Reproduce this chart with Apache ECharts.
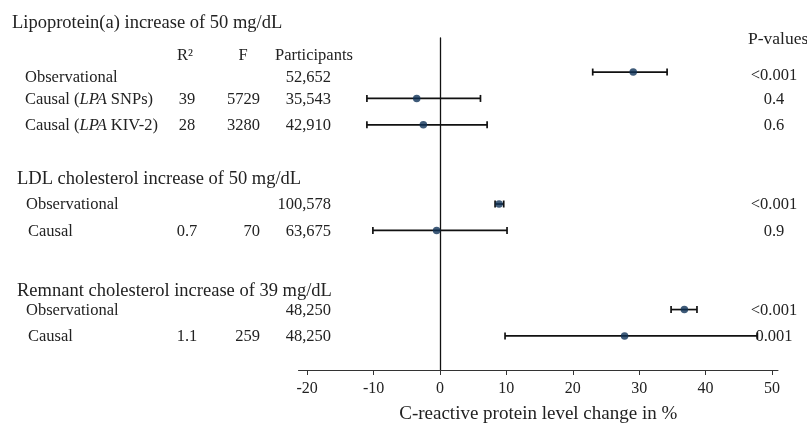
<!DOCTYPE html>
<html>
<head>
<meta charset="utf-8">
<script src="https://cdn.jsdelivr.net/npm/echarts@6/dist/echarts.min.js"></script>
<style>
html,body{margin:0;padding:0;background:#fff;}
#chart{width:807px;height:424px;}
</style>
</head>
<body>
<div id="chart"></div>
<script>
// ---- data ----
const groupTitles = ['Lipoprotein(a) increase of 50 mg/dL', 'LDL cholesterol increase of 50 mg/dL', 'Remnant cholesterol increase of 39 mg/dL'];
const rowGroup = [0, 0, 0, 1, 1, 2, 2];
const rowLabels = ['Observational', 'Causal ({i|LPA} SNPs)', 'Causal ({i|LPA} KIV-2)', 'Observational', 'Causal', 'Observational', 'Causal'];
const rowIndex = [1, 2, 3, 6, 7, 10, 11];
const estimate = [29.1, -3.5, -2.5, 8.9, -0.5, 36.8, 27.8];
const lower = [23.0, -11.0, -11.0, 8.3, -10.1, 34.8, 9.8];
const upper = [34.2, 6.1, 7.1, 9.6, 10.1, 38.7, 47.8];
const r2 = ['', '39', '28', '', '0.7', '', '1.1'];
const fStat = ['', '5729', '3280', '', '70', '', '259'];
const participants = ['52,652', '35,543', '42,910', '100,578', '63,675', '48,250', '48,250'];
const pValues = ['<0.001', '0.4', '0.6', '<0.001', '0.9', '<0.001', '0.001'];
const columnHeaders = ['R²', 'F', 'Participants', 'P-values'];
const xTicks = [-20, -10, 0, 10, 20, 30, 40, 50];
const xTitle = 'C-reactive protein level change in %';

// ---- chart ----
const FONT = '"Liberation Serif", "Times New Roman", serif';
const chart = echarts.init(document.getElementById('chart'), null, {renderer: 'canvas'});

const barData = rowIndex.map((r, i) => [lower[i], upper[i], r]);
const pointData = rowIndex.map((r, i) => [estimate[i], r]);

chart.setOption({
  backgroundColor: '#ffffff',
  animation: false,
  grid: {left: 298.5, right: 29, top: 38, bottom: 54, containLabel: false, outerBoundsMode: 'none'},
  xAxis: {
    type: 'value', min: -21.3, max: 50.9,
    axisLine: {show: true, onZero: false, lineStyle: {color: '#333', width: 1}},
    axisTick: {show: true, inside: false, length: 5, customValues: xTicks, lineStyle: {color: '#333'}},
    axisLabel: {show: true, customValues: xTicks, fontFamily: FONT, fontSize: 16, color: '#222', margin: 11},
    splitLine: {show: false},
    name: xTitle, nameLocation: 'middle', nameGap: 35,
    nameTextStyle: {fontFamily: FONT, fontSize: 19, color: '#222'}
  },
  yAxis: {
    type: 'value', inverse: true, min: -0.29, max: 12.29,
    axisLine: {show: true, onZero: true, lineStyle: {color: '#111', width: 1.3}},
    axisTick: {show: false}, axisLabel: {show: false}, splitLine: {show: false}
  },
  series: [
    {
      type: 'custom',
      data: barData,
      z: 3,
      renderItem: function (params, api) {
        const p1 = api.coord([api.value(0), api.value(2)]);
        const p2 = api.coord([api.value(1), api.value(2)]);
        const h = 3.5;
        const st = {stroke: '#111', lineWidth: 1.7};
        return {
          type: 'group',
          children: [
            {type: 'line', shape: {x1: p1[0], y1: p1[1], x2: p2[0], y2: p2[1]}, style: st},
            {type: 'line', shape: {x1: p1[0], y1: p1[1] - h, x2: p1[0], y2: p1[1] + h}, style: st},
            {type: 'line', shape: {x1: p2[0], y1: p2[1] - h, x2: p2[0], y2: p2[1] + h}, style: st}
          ]
        };
      }
    },
    {
      type: 'scatter',
      data: pointData,
      z: 5,
      symbol: 'circle',
      symbolSize: 7.5,
      itemStyle: {color: '#0f3257', borderWidth: 0}
    }
  ]
});

// ---- table text ----
function yPix(idx) { return chart.convertToPixel({gridIndex: 0}, [0, idx])[1]; }
const base = {fontFamily: FONT, fontSize: 16.5, fill: '#222', verticalAlign: 'middle'};
const rich = {
  i: {fontFamily: FONT, fontSize: 16.5, fontStyle: 'italic', fill: '#222'}
};
const g = [];
function txt(x, y, text, align, extra) {
  g.push({type: 'text', x: x, y: y, silent: true,
    style: Object.assign({}, base, {text: text, align: align || 'left', rich: rich}, extra || {})});
}
// group titles
const titleY = [23, 179, 291];
const titleX = [12, 17, 17];
groupTitles.forEach((t, i) => txt(titleX[i], titleY[i], t, 'left', {fontSize: 18.5}));
// column headers
txt(177, 56, columnHeaders[0], 'left');
txt(243, 56, columnHeaders[1], 'center');
txt(275, 56, columnHeaders[2], 'left');
txt(748, 39, columnHeaders[3], 'left', {fontSize: 17.5});
// rows
rowIndex.forEach((r, i) => {
  let y = yPix(r) + 1;
  if (i === 0) y += 4.5;
  const lx = rowGroup[i] === 0 ? 25 : (rowLabels[i] === 'Causal' ? 28 : 26);
  txt(lx, y, rowLabels[i], 'left');
  if (r2[i]) txt(187, y, r2[i], 'center');
  if (fStat[i]) txt(260, y, fStat[i], 'right');
  txt(331, y, participants[i], 'right');
  txt(774, i === 0 ? y - 2 : y, pValues[i], 'center');
});
chart.setOption({graphic: {elements: g}});
</script>
</body>
</html>
